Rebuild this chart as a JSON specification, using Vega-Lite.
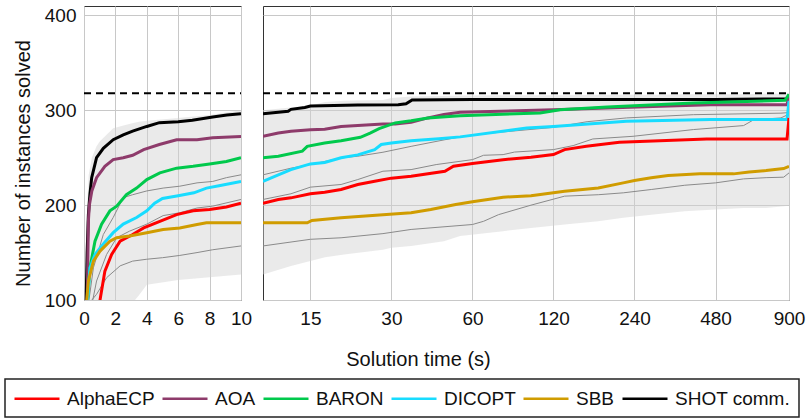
{
  "$schema": "https://vega.github.io/schema/vega-lite/v6.json",
  "padding": {"left": 4, "top": 5, "right": 5, "bottom": 0},
  "background": "white",
  "config": {
    "font": "Liberation Sans",
    "view": {"stroke": "#333333", "strokeWidth": 1},
    "axis": {"labelFontSize": 19, "titleFontSize": 20, "labelColor": "#111111", "titleColor": "#111111", "titleFontWeight": "normal", "gridColor": "#c8c8c8", "gridWidth": 1, "domain": false, "ticks": false, "labelFlush": false, "labelOverlap": false},
    "legend": {"strokeWidth": 1.5},
    "concat": {"spacing": 5}
  },
  "datasets": {
    "lines": [
      {"s":"SHOT comm.","t":0.13,"n":95},{"s":"SHOT comm.","t":0.2,"n":150},{"s":"SHOT comm.","t":0.28,"n":190},{"s":"SHOT comm.","t":0.38,"n":212},{"s":"SHOT comm.","t":0.49,"n":229},{"s":"SHOT comm.","t":0.8,"n":250},{"s":"SHOT comm.","t":1.23,"n":260},{"s":"SHOT comm.","t":1.86,"n":269},{"s":"SHOT comm.","t":2.5,"n":274},{"s":"SHOT comm.","t":3.1,"n":278},{"s":"SHOT comm.","t":4,"n":283},{"s":"SHOT comm.","t":4.8,"n":287},{"s":"SHOT comm.","t":6,"n":288},{"s":"SHOT comm.","t":6.9,"n":289.5},{"s":"SHOT comm.","t":8.2,"n":293},{"s":"SHOT comm.","t":9.1,"n":295},{"s":"SHOT comm.","t":10,"n":296.5},{"s":"SHOT comm.","t":11.4,"n":298},{"s":"SHOT comm.","t":12.4,"n":299},{"s":"SHOT comm.","t":12.7,"n":301},{"s":"SHOT comm.","t":14.3,"n":303},{"s":"SHOT comm.","t":15,"n":304.5},{"s":"SHOT comm.","t":22.5,"n":305.5},{"s":"SHOT comm.","t":31.8,"n":306},{"s":"SHOT comm.","t":34,"n":307},{"s":"SHOT comm.","t":35.8,"n":311},{"s":"SHOT comm.","t":60,"n":311.3},{"s":"SHOT comm.","t":480,"n":311.5},{"s":"SHOT comm.","t":885,"n":312},{"s":"SHOT comm.","t":900,"n":316},
      {"s":"AOA","t":0.2,"n":95},{"s":"AOA","t":0.28,"n":183},{"s":"AOA","t":0.34,"n":200},{"s":"AOA","t":0.5,"n":215},{"s":"AOA","t":0.8,"n":229},{"s":"AOA","t":1.33,"n":241},{"s":"AOA","t":1.86,"n":248},{"s":"AOA","t":2.5,"n":250},{"s":"AOA","t":3.1,"n":252.6},{"s":"AOA","t":3.8,"n":258.6},{"s":"AOA","t":4.8,"n":264},{"s":"AOA","t":5.9,"n":269},{"s":"AOA","t":7.2,"n":269},{"s":"AOA","t":8.2,"n":271},{"s":"AOA","t":10,"n":272.5},{"s":"AOA","t":11.4,"n":276},{"s":"AOA","t":12.7,"n":278},{"s":"AOA","t":15,"n":279.6},{"s":"AOA","t":16.95,"n":280},{"s":"AOA","t":19.5,"n":283},{"s":"AOA","t":22.5,"n":284},{"s":"AOA","t":27.9,"n":285.6},{"s":"AOA","t":31,"n":285.5},{"s":"AOA","t":35.5,"n":287.4},{"s":"AOA","t":41,"n":292},{"s":"AOA","t":47,"n":295.5},{"s":"AOA","t":54,"n":297.9},{"s":"AOA","t":120,"n":300.5},{"s":"AOA","t":190,"n":302.5},{"s":"AOA","t":300,"n":304.2},{"s":"AOA","t":460,"n":306},{"s":"AOA","t":885,"n":306},{"s":"AOA","t":900,"n":316},
      {"s":"BARON","t":0.2,"n":95},{"s":"BARON","t":0.38,"n":134},{"s":"BARON","t":0.7,"n":162},{"s":"BARON","t":1.12,"n":180},{"s":"BARON","t":1.65,"n":194},{"s":"BARON","t":2.08,"n":199},{"s":"BARON","t":2.7,"n":211},{"s":"BARON","t":3.35,"n":218},{"s":"BARON","t":4,"n":227},{"s":"BARON","t":4.83,"n":234},{"s":"BARON","t":5.9,"n":239},{"s":"BARON","t":6.95,"n":241},{"s":"BARON","t":8,"n":243.5},{"s":"BARON","t":9.07,"n":246},{"s":"BARON","t":10,"n":250},{"s":"BARON","t":11.4,"n":251.6},{"s":"BARON","t":14,"n":257},{"s":"BARON","t":14.6,"n":262},{"s":"BARON","t":16.95,"n":265.6},{"s":"BARON","t":19.5,"n":268},{"s":"BARON","t":23,"n":271.6},{"s":"BARON","t":25,"n":276},{"s":"BARON","t":27,"n":280.7},{"s":"BARON","t":28.5,"n":283},{"s":"BARON","t":31,"n":286.7},{"s":"BARON","t":35.5,"n":289},{"s":"BARON","t":41,"n":292},{"s":"BARON","t":54,"n":294.4},{"s":"BARON","t":107,"n":297.2},{"s":"BARON","t":127,"n":300.7},{"s":"BARON","t":190,"n":303.5},{"s":"BARON","t":397,"n":307.7},{"s":"BARON","t":870,"n":310.5},{"s":"BARON","t":900,"n":317},
      {"s":"DICOPT","t":0.22,"n":98},{"s":"DICOPT","t":0.38,"n":134},{"s":"DICOPT","t":0.7,"n":148},{"s":"DICOPT","t":1.23,"n":159},{"s":"DICOPT","t":1.86,"n":171},{"s":"DICOPT","t":2.5,"n":180},{"s":"DICOPT","t":3.35,"n":187},{"s":"DICOPT","t":4,"n":194},{"s":"DICOPT","t":4.5,"n":202},{"s":"DICOPT","t":5,"n":207},{"s":"DICOPT","t":6,"n":210},{"s":"DICOPT","t":7,"n":213},{"s":"DICOPT","t":7.8,"n":218},{"s":"DICOPT","t":8.6,"n":220.5},{"s":"DICOPT","t":10,"n":225},{"s":"DICOPT","t":11.4,"n":232},{"s":"DICOPT","t":12.7,"n":237.5},{"s":"DICOPT","t":15,"n":243.5},{"s":"DICOPT","t":16.95,"n":245},{"s":"DICOPT","t":19.5,"n":250},{"s":"DICOPT","t":22.5,"n":253},{"s":"DICOPT","t":26,"n":258.6},{"s":"DICOPT","t":27.5,"n":264},{"s":"DICOPT","t":30,"n":265.5},{"s":"DICOPT","t":35.5,"n":268},{"s":"DICOPT","t":45,"n":270},{"s":"DICOPT","t":54,"n":272},{"s":"DICOPT","t":95.5,"n":281.4},{"s":"DICOPT","t":120,"n":283},{"s":"DICOPT","t":224,"n":288.4},{"s":"DICOPT","t":460,"n":290.2},{"s":"DICOPT","t":885,"n":290.2},{"s":"DICOPT","t":900,"n":310},
      {"s":"AlphaECP","t":1.0,"n":98},{"s":"AlphaECP","t":1.33,"n":130.5},{"s":"AlphaECP","t":1.76,"n":148},{"s":"AlphaECP","t":2.3,"n":162},{"s":"AlphaECP","t":3.1,"n":169},{"s":"AlphaECP","t":3.8,"n":176},{"s":"AlphaECP","t":4.83,"n":183},{"s":"AlphaECP","t":5.9,"n":190},{"s":"AlphaECP","t":6.95,"n":194},{"s":"AlphaECP","t":8,"n":195.4},{"s":"AlphaECP","t":9.07,"n":198},{"s":"AlphaECP","t":10,"n":202},{"s":"AlphaECP","t":11.4,"n":206},{"s":"AlphaECP","t":12.7,"n":207.7},{"s":"AlphaECP","t":15,"n":212},{"s":"AlphaECP","t":16.95,"n":213.7},{"s":"AlphaECP","t":19.5,"n":216.5},{"s":"AlphaECP","t":22.5,"n":221.8},{"s":"AlphaECP","t":26,"n":225.3},{"s":"AlphaECP","t":30,"n":228.5},{"s":"AlphaECP","t":35.5,"n":230.5},{"s":"AlphaECP","t":47.4,"n":235.8},{"s":"AlphaECP","t":51,"n":241},{"s":"AlphaECP","t":60,"n":244},{"s":"AlphaECP","t":78,"n":248},{"s":"AlphaECP","t":99,"n":250.5},{"s":"AlphaECP","t":120,"n":253.3},{"s":"AlphaECP","t":132,"n":258.6},{"s":"AlphaECP","t":159,"n":262},{"s":"AlphaECP","t":211,"n":266.3},{"s":"AlphaECP","t":445,"n":269.8},{"s":"AlphaECP","t":885,"n":269.8},{"s":"AlphaECP","t":900,"n":292},
      {"s":"SBB","t":0.15,"n":95},{"s":"SBB","t":0.28,"n":120},{"s":"SBB","t":0.6,"n":141},{"s":"SBB","t":1.02,"n":151.6},{"s":"SBB","t":1.65,"n":162},{"s":"SBB","t":2.08,"n":165.6},{"s":"SBB","t":2.9,"n":167.4},{"s":"SBB","t":4,"n":171},{"s":"SBB","t":5.04,"n":174.4},{"s":"SBB","t":6.1,"n":176},{"s":"SBB","t":7.2,"n":179.6},{"s":"SBB","t":7.8,"n":181.4},{"s":"SBB","t":10,"n":181.4},{"s":"SBB","t":14.6,"n":181.4},{"s":"SBB","t":15.2,"n":183.9},{"s":"SBB","t":19.5,"n":186.7},{"s":"SBB","t":27.9,"n":190},{"s":"SBB","t":35.5,"n":192},{"s":"SBB","t":42,"n":195.4},{"s":"SBB","t":52,"n":200.7},{"s":"SBB","t":60,"n":203.5},{"s":"SBB","t":78,"n":208.4},{"s":"SBB","t":99,"n":210},{"s":"SBB","t":132,"n":214.7},{"s":"SBB","t":176,"n":218.2},{"s":"SBB","t":218,"n":223.5},{"s":"SBB","t":240,"n":226},{"s":"SBB","t":277,"n":228.8},{"s":"SBB","t":320,"n":231.2},{"s":"SBB","t":420,"n":233},{"s":"SBB","t":560,"n":233},{"s":"SBB","t":640,"n":235},{"s":"SBB","t":740,"n":236.5},{"s":"SBB","t":860,"n":238.6},{"s":"SBB","t":900,"n":241}
    ],
    "others": [
      {"s":"O1","t":0.3,"n":98},{"s":"O1","t":0.6,"n":134},{"s":"O1","t":1.23,"n":169},{"s":"O1","t":1.86,"n":187},{"s":"O1","t":2.5,"n":208},{"s":"O1","t":3.1,"n":211},{"s":"O1","t":4,"n":215},{"s":"O1","t":5.04,"n":218},{"s":"O1","t":6.1,"n":220},{"s":"O1","t":7.2,"n":223.5},{"s":"O1","t":8.2,"n":225},{"s":"O1","t":9.07,"n":229},{"s":"O1","t":10,"n":232},{"s":"O1","t":12.7,"n":239},{"s":"O1","t":15,"n":242.8},{"s":"O1","t":19.5,"n":249.8},{"s":"O1","t":22.5,"n":251.6},{"s":"O1","t":27.9,"n":255.8},{"s":"O1","t":35.5,"n":262},{"s":"O1","t":47.4,"n":269},{"s":"O1","t":54,"n":272},{"s":"O1","t":70,"n":276},{"s":"O1","t":120,"n":282},{"s":"O1","t":160,"n":288},{"s":"O1","t":224,"n":292},{"s":"O1","t":397,"n":295.4},{"s":"O1","t":840,"n":297},{"s":"O1","t":885,"n":297.5},{"s":"O1","t":900,"n":302},
      {"s":"O2","t":0.5,"n":95},{"s":"O2","t":0.8,"n":120},{"s":"O2","t":1.44,"n":148},{"s":"O2","t":2.08,"n":165.6},{"s":"O2","t":2.9,"n":172.6},{"s":"O2","t":4,"n":180},{"s":"O2","t":5.04,"n":189},{"s":"O2","t":6.1,"n":192},{"s":"O2","t":7.2,"n":197},{"s":"O2","t":8.2,"n":199},{"s":"O2","t":10,"n":206},{"s":"O2","t":12.7,"n":212},{"s":"O2","t":15,"n":219},{"s":"O2","t":19.5,"n":221.8},{"s":"O2","t":22.5,"n":227},{"s":"O2","t":27.9,"n":235.8},{"s":"O2","t":35.5,"n":237.5},{"s":"O2","t":44,"n":242.8},{"s":"O2","t":60,"n":248},{"s":"O2","t":66,"n":252.6},{"s":"O2","t":78,"n":253.3},{"s":"O2","t":86,"n":256},{"s":"O2","t":120,"n":258.6},{"s":"O2","t":142,"n":262.8},{"s":"O2","t":168,"n":269.8},{"s":"O2","t":237,"n":272.6},{"s":"O2","t":397,"n":279.7},{"s":"O2","t":610,"n":283.9},{"s":"O2","t":665,"n":290},{"s":"O2","t":840,"n":292},{"s":"O2","t":900,"n":296},
      {"s":"O3","t":0.4,"n":98},{"s":"O3","t":0.8,"n":106},{"s":"O3","t":1.44,"n":123.5},{"s":"O3","t":2.3,"n":136},{"s":"O3","t":3.1,"n":141},{"s":"O3","t":4,"n":143},{"s":"O3","t":5,"n":144.6},{"s":"O3","t":6.1,"n":147},{"s":"O3","t":7.2,"n":150},{"s":"O3","t":8.2,"n":153},{"s":"O3","t":10,"n":157},{"s":"O3","t":15,"n":164},{"s":"O3","t":19.5,"n":165.6},{"s":"O3","t":27.9,"n":170},{"s":"O3","t":35.5,"n":174.4},{"s":"O3","t":60,"n":179.6},{"s":"O3","t":66,"n":183},{"s":"O3","t":75,"n":190},{"s":"O3","t":99,"n":200},{"s":"O3","t":132,"n":209.5},{"s":"O3","t":176,"n":211},{"s":"O3","t":218,"n":213},{"s":"O3","t":277,"n":216.5},{"s":"O3","t":369,"n":221},{"s":"O3","t":480,"n":223.5},{"s":"O3","t":610,"n":227.7},{"s":"O3","t":740,"n":229},{"s":"O3","t":860,"n":229.5},{"s":"O3","t":900,"n":234}
    ],
    "band": [
      {"t":0,"n":95,"hi":95},{"t":0.1,"n":95,"hi":120},{"t":0.2,"n":95,"hi":200},{"t":0.3,"n":95,"hi":232},{"t":0.5,"n":95,"hi":250},{"t":0.8,"n":95,"hi":262},{"t":1.0,"n":95,"hi":267},{"t":1.86,"n":95,"hi":281},{"t":3,"n":95,"hi":286},{"t":3.5,"n":105,"hi":288},{"t":4,"n":116,"hi":289},{"t":6,"n":121,"hi":292},{"t":8,"n":124,"hi":295},{"t":10,"n":127,"hi":300},
      {"t":12.7,"n":135.8,"hi":303},{"t":15,"n":141,"hi":305},{"t":17,"n":145,"hi":308.8},{"t":20,"n":148,"hi":310},{"t":27.9,"n":153,"hi":311},{"t":30,"n":155,"hi":313},{"t":35.5,"n":157,"hi":314.7},{"t":47,"n":162,"hi":315},{"t":54,"n":167.4,"hi":315.5},{"t":78,"n":172.6,"hi":316},{"t":99,"n":176,"hi":316},{"t":132,"n":179.6,"hi":316},{"t":176,"n":183,"hi":316.5},{"t":218,"n":186.7,"hi":316.5},{"t":277,"n":190,"hi":316.5},{"t":369,"n":193.7,"hi":317},{"t":480,"n":195.4,"hi":317},{"t":610,"n":197,"hi":317},{"t":740,"n":197,"hi":317.5},{"t":881,"n":199,"hi":317.5},{"t":900,"n":200,"hi":318}
    ],
    "ref": [{"t": 0, "n": 318}, {"t": 10, "n": 318}, {"t": 900, "n": 318}]
  },
  "hconcat": [
    {
      "width": 157,
      "height": 294,
      "encoding": {
        "x": {"field": "t", "type": "quantitative", "scale": {"domain": [0, 10], "nice": false}, "axis": {"values": [0, 2, 4, 6, 8, 10], "title": null, "labelPadding": 9, "grid": true, "labelOverlap": false, "labelFlush": false, "labelBound": false}},
        "y": {"field": "n", "type": "quantitative", "scale": {"domain": [100, 410], "nice": false, "zero": false}, "axis": {"values": [100, 200, 300, 400], "title": "Number of instances solved", "labelPadding": 8, "grid": true, "labelOverlap": false, "titleX": -61, "titleY": 157, "titleBaseline": "middle"}}
      },
      "layer": [
        {
          "data": {"name": "band"},
          "transform": [{"filter": "datum.t <= 10"}],
          "mark": {"type": "area", "color": "#d0d0d0", "opacity": 0.45, "clip": true},
          "encoding": {"y2": {"field": "hi"}}
        },
        {
          "data": {"name": "others"},
          "transform": [{"filter": "datum.t <= 10"}],
          "mark": {"type": "line", "color": "#8a8a8a", "strokeWidth": 1, "clip": true},
          "encoding": {"detail": {"field": "s"}}
        },
        {
          "data": {"name": "lines"},
          "transform": [{"filter": "datum.t <= 10"}],
          "mark": {"type": "line", "strokeWidth": 3, "clip": true},
          "encoding": {
            "color": {"field": "s", "type": "nominal", "sort": null,
              "scale": {"domain": ["AlphaECP", "AOA", "BARON", "DICOPT", "SBB", "SHOT comm."], "range": ["#ff0000", "#8e3b6b", "#00c94c", "#18dcff", "#d09c00", "#000000"]},
              "legend": {"orient": "none", "legendX": -79, "legendY": 373, "direction": "horizontal", "columns": 6, "title": null, "symbolType": "M-1,0H3.5", "symbolSize": 400, "symbolStrokeWidth": 2.5, "labelFontSize": 19, "labelColor": "#111111", "labelOffset": 31, "columnPadding": 2, "padding": 8, "strokeColor": "#222222"}}
          }
        },
        {
          "data": {"name": "ref"},
          "transform": [{"filter": "datum.t <= 10"}],
          "mark": {"type": "line", "color": "#000000", "strokeWidth": 2, "strokeDash": [7, 5]}
        }
      ]
    },
    {
      "width": 526,
      "height": 294,
      "encoding": {
        "x": {"field": "t", "type": "quantitative", "scale": {"type": "log", "domain": [10, 900], "nice": false}, "axis": {"values": [15, 30, 60, 120, 240, 480, 900], "format": "d", "labelPadding": 9, "grid": true, "labelOverlap": false, "labelFlush": false, "labelBound": false, "title": "Solution time (s)", "titleX": 155, "titleY": 65, "titleBaseline": "alphabetic"}},
        "y": {"field": "n", "type": "quantitative", "scale": {"domain": [100, 410], "nice": false, "zero": false}, "axis": {"values": [100, 200, 300, 400], "labels": false, "title": null, "grid": true}}
      },
      "layer": [
        {
          "data": {"name": "band"},
          "transform": [{"filter": "datum.t >= 10"}],
          "mark": {"type": "area", "color": "#d0d0d0", "opacity": 0.45, "clip": true},
          "encoding": {"y2": {"field": "hi"}}
        },
        {
          "data": {"name": "others"},
          "transform": [{"filter": "datum.t >= 10"}],
          "mark": {"type": "line", "color": "#8a8a8a", "strokeWidth": 1, "clip": true},
          "encoding": {"detail": {"field": "s"}}
        },
        {
          "data": {"name": "lines"},
          "transform": [{"filter": "datum.t >= 10"}],
          "mark": {"type": "line", "strokeWidth": 3, "clip": true},
          "encoding": {
            "color": {"field": "s", "type": "nominal", "sort": null,
              "scale": {"domain": ["AlphaECP", "AOA", "BARON", "DICOPT", "SBB", "SHOT comm."], "range": ["#ff0000", "#8e3b6b", "#00c94c", "#18dcff", "#d09c00", "#000000"]},
              "legend": {"orient": "none", "legendX": -79, "legendY": 373, "direction": "horizontal", "columns": 6, "title": null, "symbolType": "M-1,0H3.5", "symbolSize": 400, "symbolStrokeWidth": 2.5, "labelFontSize": 19, "labelColor": "#111111", "labelOffset": 31, "columnPadding": 2, "padding": 8, "strokeColor": "#222222"}}
          }
        },
        {
          "data": {"name": "ref"},
          "transform": [{"filter": "datum.t >= 10"}],
          "mark": {"type": "line", "color": "#000000", "strokeWidth": 2, "strokeDash": [7, 5]}
        }
      ]
    }
  ]
}
